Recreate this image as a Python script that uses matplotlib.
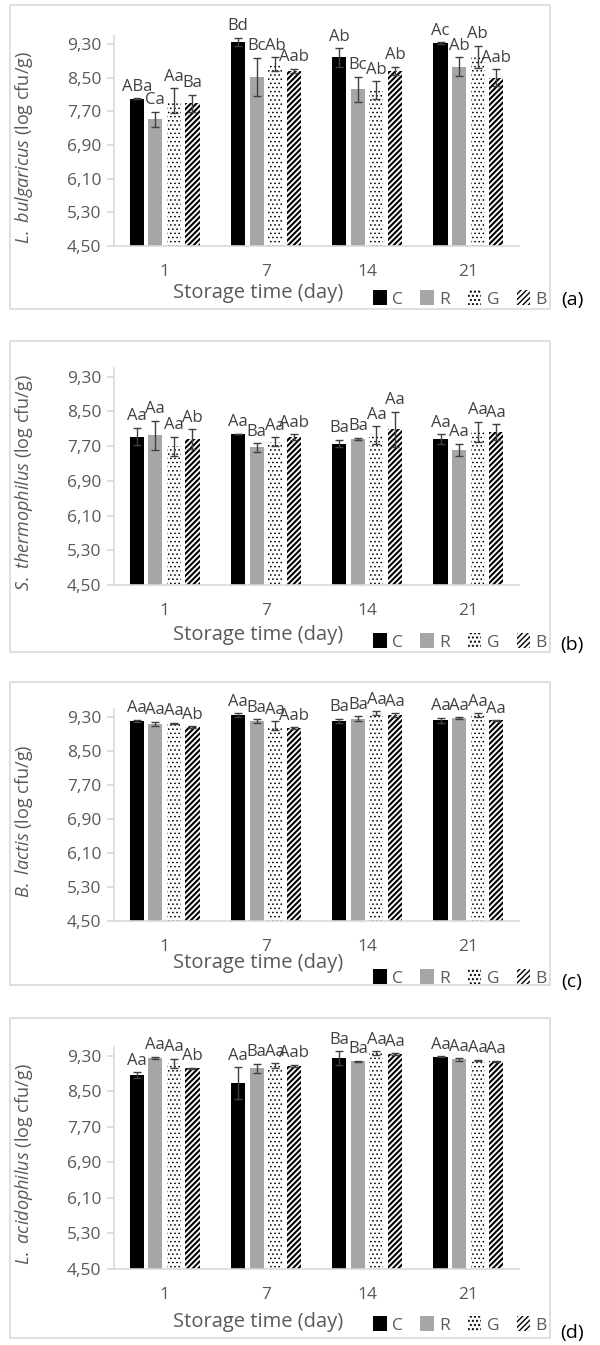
import numpy as np
import matplotlib
matplotlib.use('Agg')
import matplotlib.pyplot as plt
from matplotlib.patches import Rectangle
from matplotlib.ticker import FuncFormatter

plt.rcParams['font.family'] = ['Open Sans', 'DejaVu Sans']
plt.rcParams['mathtext.fontset'] = 'custom'
plt.rcParams['mathtext.it'] = 'Open Sans:italic'
plt.rcParams['mathtext.rm'] = 'Open Sans'
plt.rcParams['hatch.color'] = 'black'

days = ['1', '7', '14', '21']
groups = ['C', 'R', 'G', 'B']

# rows: C, R, G, B ; columns: day 1, 7, 14, 21
bulgaricus_mean = [[8.00, 9.35, 8.98, 9.32],
                   [7.51, 8.52, 8.22, 8.76],
                   [7.95, 8.83, 8.20, 9.00],
                   [7.89, 8.66, 8.66, 8.50]]
bulgaricus_err = [[0.01, 0.10, 0.22, 0.02],
                  [0.18, 0.45, 0.30, 0.22],
                  [0.30, 0.16, 0.21, 0.26],
                  [0.20, 0.05, 0.10, 0.20]]
bulgaricus_letters = [['ABa', 'Bd', 'Ab', 'Ac'],
                      ['Ca', 'Bc', 'Bc', 'Ab'],
                      ['Aa', 'Ab', 'Ab', 'Ab'],
                      ['Ba', 'Aab', 'Ab', 'Aab']]

thermophilus_mean = [[7.92, 7.98, 7.76, 7.86],
                     [7.95, 7.67, 7.87, 7.61],
                     [7.70, 7.80, 7.96, 8.03],
                     [7.86, 7.90, 8.09, 8.03]]
thermophilus_err = [[0.20, 0.01, 0.09, 0.11],
                    [0.33, 0.10, 0.02, 0.14],
                    [0.22, 0.10, 0.20, 0.23],
                    [0.23, 0.07, 0.40, 0.18]]
thermophilus_letters = [['Aa', 'Aa', 'Ba', 'Aa'],
                        ['Aa', 'Ba', 'Ba', 'Aa'],
                        ['Aa', 'Aa', 'Aa', 'Aa'],
                        ['Ab', 'Aab', 'Aa', 'Aa']]

lactis_mean = [[9.21, 9.34, 9.21, 9.22],
               [9.14, 9.20, 9.26, 9.27],
               [9.15, 9.10, 9.39, 9.34],
               [9.06, 9.04, 9.34, 9.22]]
lactis_err = [[0.03, 0.05, 0.05, 0.06],
              [0.05, 0.05, 0.06, 0.02],
              [0.02, 0.10, 0.05, 0.05],
              [0.02, 0.02, 0.05, 0.01]]
lactis_letters = [['Aa', 'Aa', 'Ba', 'Aa'],
                  ['Aa', 'Ba', 'Ba', 'Aa'],
                  ['Aa', 'Aa', 'Aa', 'Aa'],
                  ['Ab', 'Aab', 'Aa', 'Aa']]

acidophilus_mean = [[8.87, 8.68, 9.25, 9.28],
                    [9.26, 9.02, 9.18, 9.22],
                    [9.13, 9.08, 9.37, 9.20],
                    [9.02, 9.08, 9.34, 9.18]]
acidophilus_err = [[0.06, 0.36, 0.15, 0.01],
                   [0.02, 0.10, 0.01, 0.03],
                   [0.11, 0.05, 0.04, 0.01],
                   [0.01, 0.02, 0.02, 0.01]]
acidophilus_letters = [['Aa', 'Aa', 'Ba', 'Aa'],
                       ['Aa', 'Ba', 'Ba', 'Aa'],
                       ['Aa', 'Aa', 'Aa', 'Aa'],
                       ['Ab', 'Aab', 'Aa', 'Aa']]

species = ['L.\\ bulgaricus', 'S.\\ thermophilus', 'B.\\ lactis', 'L.\\ acidophilus']
tags = ['(a)', '(b)', '(c)', '(d)']

colors = ['black', '#a6a6a6', 'white', 'white']
hatches = [None, None, '....', '//////']
hatch_lw = [1.0, 1.0, 0.6, 1.5]
grey_txt = '#595959'
grey_line = '#d9d9d9'

W, H = 600, 1345
fig = plt.figure(figsize=(W / 100, H / 100), dpi=100)


def fx(px):
    return px / W


def fy(py):
    return 1 - py / H


# layout in pixels: axes top, axes bottom, frame top, frame bottom, xlabel y, legend y, tag y
layout = [(35.6, 246, 5, 309, 293, 299, 300),
          (368, 585, 341, 652, 635, 642, 645),
          (708.5, 921, 682, 985, 963, 978, 982),
          (1047, 1269, 1018, 1338, 1322, 1325, 1333)]

all_means = [bulgaricus_mean, thermophilus_mean, lactis_mean, acidophilus_mean]
all_errs = [bulgaricus_err, thermophilus_err, lactis_err, acidophilus_err]
all_letters = [bulgaricus_letters, thermophilus_letters, lactis_letters, acidophilus_letters]

x = np.arange(len(days))
offsets = (np.arange(4) - 1.5) * 0.183
ax_left, ax_right = 114, 519

for p in range(4):
    top, bot, ftop, fbot, xl_y, leg_y, tag_y = layout[p]
    means, errs, letters = all_means[p], all_errs[p], all_letters[p]

    fig.add_artist(Rectangle((fx(10), fy(fbot)), fx(550) - fx(10), (fbot - ftop) / H,
                             transform=fig.transFigure, fill=False,
                             edgecolor=grey_line, lw=1.2))

    ax = fig.add_axes([fx(ax_left), fy(bot), fx(ax_right) - fx(ax_left), (bot - top) / H])
    handles = []
    for j, g in enumerate(groups):
        with plt.rc_context({'hatch.linewidth': hatch_lw[j]}):
            b = ax.bar(x + offsets[j], means[j], width=0.14, color=colors[j],
                       hatch=hatches[j], linewidth=0, label=g)
        for r in b:
            if hasattr(r, 'set_hatch_linewidth'):
                r.set_hatch_linewidth(hatch_lw[j])
        handles.append(b)
        ax.errorbar(x + offsets[j], means[j], yerr=errs[j], fmt='none',
                    ecolor='#404040', elinewidth=1, capsize=3, capthick=1)
        for i in range(len(days)):
            ax.annotate(letters[j][i], (x[i] + offsets[j], means[j][i] + errs[j][i]),
                        xytext=(0, 2.5), textcoords='offset points',
                        ha='center', va='bottom', fontsize=12, color='#404040')

    ax.set_xlim(-0.5, 3.5)
    ax.set_ylim(4.5, 9.5)
    ax.set_yticks(np.arange(4.5, 9.31, 0.8))
    ax.yaxis.set_major_formatter(FuncFormatter(lambda v, pos: f'{v:.2f}'.replace('.', ',')))
    ax.set_xticks(x, days)
    for s in ['top', 'right']:
        ax.spines[s].set_visible(False)
    for s in ['left', 'bottom']:
        ax.spines[s].set_color(grey_line)
        ax.spines[s].set_linewidth(1.2)
    ax.tick_params(axis='y', length=5, color=grey_line, width=1.2,
                   labelsize=12.5, labelcolor=grey_txt, pad=4)
    ax.tick_params(axis='x', length=0, pad=13, labelsize=12.5, labelcolor=grey_txt)
    ax.set_ylabel('$\\mathit{' + species[p] + '}$ (log cfu/g)', fontsize=13, color=grey_txt)
    ax.yaxis.set_label_coords(-0.195, 0.47)

    fig.text(fx(258), fy(xl_y), 'Storage time (day)', ha='center', va='center',
             fontsize=14.5, color=grey_txt)
    fig.legend(handles=handles, labels=groups, loc='center',
               bbox_to_anchor=(fx(460), fy(leg_y)), ncol=4, frameon=False,
               handlelength=0.8, handleheight=0.9, handletextpad=0.3,
               columnspacing=1.0, fontsize=12.5, labelcolor=grey_txt,
               borderpad=0, borderaxespad=0)
    fig.text(fx(572), fy(tag_y), tags[p], ha='center', va='center', fontsize=14, color='black')

fig.savefig('out.png', dpi=100)
